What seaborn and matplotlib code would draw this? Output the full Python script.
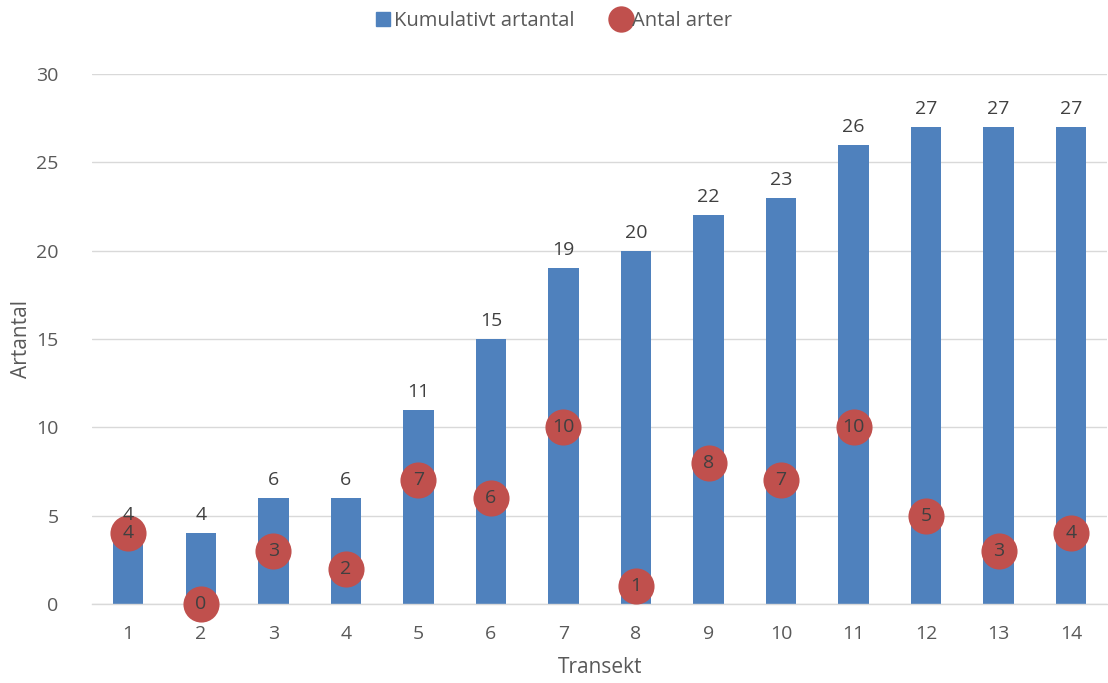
import matplotlib
matplotlib.use("Agg")
import matplotlib.pyplot as plt
import seaborn as sns
import pandas as pd
import numpy as np
from matplotlib.lines import Line2D
from matplotlib.patches import Patch

transekt = ["1", "2", "3", "4", "5", "6", "7", "8", "9", "10", "11", "12", "13", "14"]
kumulativt = [4, 4, 6, 6, 11, 15, 19, 20, 22, 23, 26, 27, 27, 27]
antal_arter = [4, 0, 3, 2, 7, 6, 10, 1, 8, 7, 10, 5, 3, 4]

BLUE = "#4F81BD"
RED = "#C0504D"
TEXT = "#595959"
GRID = "#D9D9D9"

sns.set_theme(style="white")
plt.rcParams["font.family"] = ["Open Sans", "DejaVu Sans"]

df = pd.DataFrame({"Transekt": transekt, "kum": kumulativt, "antal": antal_arter})

fig = plt.figure(figsize=(11.08, 6.83), dpi=100)
ax = fig.add_axes([0.083, 0.1157, 0.9165, 0.776])

sns.barplot(data=df, x="Transekt", y="kum", color=BLUE, width=0.42,
            saturation=1, linewidth=0, ax=ax, zorder=2)
sns.pointplot(data=df, x="Transekt", y="antal", color=RED, linestyle="none",
              markers="o", markersize=26, ax=ax, zorder=4)
for ln in ax.lines:
    ln.set_zorder(4)
    ln.set_markeredgewidth(0)
    ln.set_clip_on(False)

# value labels above the bars
for i, v in enumerate(kumulativt):
    ax.text(i, v + 0.5, str(v), ha="center", va="bottom", fontsize=14,
            color="#404040", zorder=5)
# value labels inside the markers
for i, v in enumerate(antal_arter):
    ax.text(i, v, str(v), ha="center", va="center", fontsize=14,
            color="#404040", zorder=6)

ax.set_ylim(0, 30)
ax.set_xlim(-0.5, len(transekt) - 0.5)
ax.set_yticks(range(0, 31, 5))
ax.yaxis.grid(True, color=GRID, linewidth=1)
ax.set_axisbelow(True)
for s in ["top", "right", "left"]:
    ax.spines[s].set_visible(False)
ax.spines["bottom"].set_color(GRID)
ax.spines["bottom"].set_linewidth(1)
ax.tick_params(axis="both", length=0, labelsize=14, labelcolor=TEXT)
ax.tick_params(axis="y", pad=24)
ax.tick_params(axis="x", pad=15)
ax.set_xlabel("Transekt", fontsize=15, color=TEXT, labelpad=10)
ax.set_ylabel("Artantal", fontsize=15, color=TEXT, labelpad=3)

handles = [Patch(facecolor=BLUE, edgecolor=BLUE),
           Line2D([], [], marker="o", color=RED, markeredgewidth=0,
                  linestyle="none", markersize=19)]
fig.legend(handles, ["Kumulativt artantal", "Antal arter"], loc="upper center",
           bbox_to_anchor=(0.5, 1.01), ncol=2, frameon=False, fontsize=14.5,
           labelcolor=TEXT, handlelength=0.65, handletextpad=0.2, columnspacing=2.0,
           handleheight=0.65)

fig.savefig("out.png", dpi=100)
